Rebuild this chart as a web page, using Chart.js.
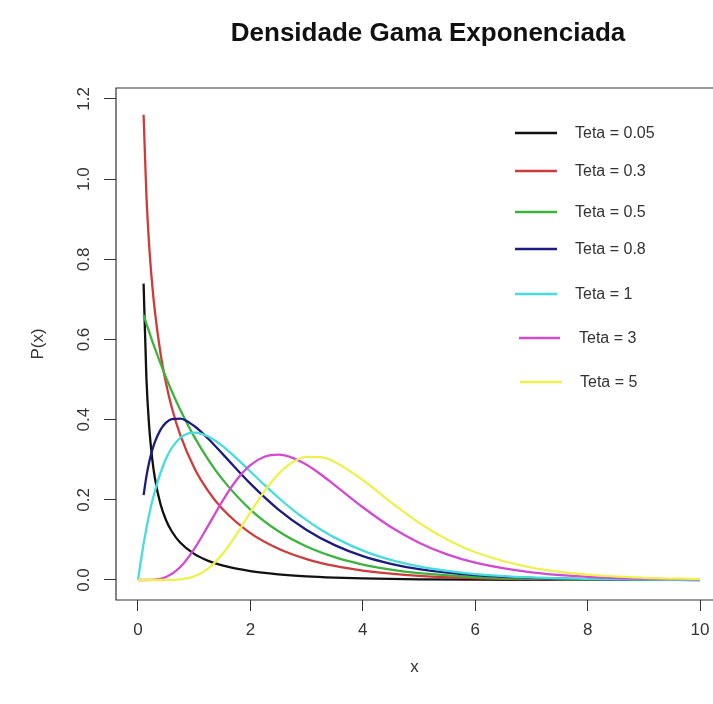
<!DOCTYPE html>
<html>
<head>
<meta charset="utf-8">
<title>Densidade Gama Exponenciada</title>
<script src="https://cdn.jsdelivr.net/npm/chart.js@4"></script>
<style>
  body { margin: 0; background: #fff; }
  canvas { display: block; }
</style>
</head>
<body>
<canvas id="densityChart" width="713" height="704"></canvas>
<script>
        // grid used by the curves with theta < 1 (they blow up at x = 0)
        const xLow = [0.1, 0.15, 0.2, 0.25, 0.3, 0.4, 0.5, 0.6, 0.75, 1, 1.25, 1.5, 2, 2.5, 3, 3.5, 4, 4.5, 5, 6, 7, 8, 9, 10];
        // grid used by the curves with theta >= 1
        const xHigh = [0, 0.1, 0.25, 0.5, 0.75, 1, 1.25, 1.5, 1.75, 2, 2.25, 2.5, 2.75, 3, 3.25, 3.5, 4, 4.5, 5, 5.5, 6, 7, 8, 9, 10];

        const teta005 = [0.7393, 0.5038, 0.3817, 0.3064, 0.2551, 0.1894, 0.1491, 0.1216, 0.0936, 0.0651, 0.0478, 0.0363, 0.0222, 0.0142, 0.0092, 0.0061, 0.0040, 0.0027, 0.0018, 0.0008, 0.0003, 0.0001, 0.0001, 0.0000];
        const teta03 = [1.1605, 0.9602, 0.8331, 0.7418, 0.6711, 0.5662, 0.4901, 0.4310, 0.3624, 0.2802, 0.2217, 0.1777, 0.1169, 0.0780, 0.0523, 0.0351, 0.0235, 0.0157, 0.0104, 0.0045, 0.0019, 0.0008, 0.0003, 0.0001];
        const teta05 = [0.6614, 0.6396, 0.6185, 0.5980, 0.5782, 0.5404, 0.5049, 0.4715, 0.4255, 0.3578, 0.3004, 0.2517, 0.1756, 0.1215, 0.0835, 0.0569, 0.0384, 0.0258, 0.0172, 0.0075, 0.0032, 0.0013, 0.0006, 0.0002];
        const teta08 = [0.2117, 0.2585, 0.2941, 0.3220, 0.3439, 0.3746, 0.3925, 0.4013, 0.4024, 0.3841, 0.3524, 0.3152, 0.2403, 0.1757, 0.1249, 0.0871, 0.0597, 0.0405, 0.0272, 0.0119, 0.0051, 0.0022, 0.0009, 0.0004];
        const teta1 = [0, 0.0905, 0.1947, 0.3033, 0.3543, 0.3679, 0.3581, 0.3347, 0.3041, 0.2707, 0.2371, 0.2052, 0.1758, 0.1494, 0.1260, 0.1057, 0.0733, 0.0500, 0.0337, 0.0225, 0.0149, 0.0064, 0.0027, 0.0011, 0.0005];
        const teta3 = [0, 0.0000, 0.0004, 0.0074, 0.0319, 0.0771, 0.1357, 0.1963, 0.2487, 0.2865, 0.3075, 0.3127, 0.3048, 0.2874, 0.2637, 0.2368, 0.1814, 0.1322, 0.0931, 0.0639, 0.0431, 0.0189, 0.0080, 0.0033, 0.0014];
        const teta5 = [0, 0.0000, 0.0000, 0.0001, 0.0016, 0.0090, 0.0286, 0.0640, 0.1130, 0.1685, 0.2215, 0.2647, 0.2937, 0.3072, 0.3066, 0.2946, 0.2495, 0.1942, 0.1428, 0.1009, 0.0693, 0.0310, 0.0133, 0.0055, 0.0023];

        const seriesLabels = ["Teta = 0.05", "Teta = 0.3", "Teta = 0.5", "Teta = 0.8", "Teta = 1", "Teta = 3", "Teta = 5"];
        const xTicks = [0, 2, 4, 6, 8, 10];
        const yTicks = [0, 0.2, 0.4, 0.6, 0.8, 1.0, 1.2];
        const mainTitle = "Densidade Gama Exponenciada";

        const series = [
            { xs: xLow, ys: teta005, color: "#111111" },
            { xs: xLow, ys: teta03, color: "#cf3b3b" },
            { xs: xLow, ys: teta05, color: "#3cb43c" },
            { xs: xLow, ys: teta08, color: "#1c1c80" },
            { xs: xHigh, ys: teta1, color: "#48dcdc" },
            { xs: xHigh, ys: teta3, color: "#d24ad2" },
            { xs: xHigh, ys: teta5, color: "#eef050" }
        ];

        // legend rows (no box), hand placed in the upper right like the R legend
        const legendRows = [
            { y: 133, x0: 515, x1: 557, tx: 575 },
            { y: 171, x0: 515, x1: 557, tx: 575 },
            { y: 212, x0: 515, x1: 557, tx: 575 },
            { y: 249, x0: 515, x1: 557, tx: 575 },
            { y: 294, x0: 515, x1: 557, tx: 575 },
            { y: 338, x0: 519, x1: 560, tx: 579 },
            { y: 382, x0: 520, x1: 562, tx: 580 }
        ];

        const datasets = series.map((s, i) => ({
            label: seriesLabels[i],
            data: s.xs.map((x, j) => ({ x: x, y: s.ys[j] })),
            borderColor: s.color,
            borderWidth: 2.3,
            pointRadius: 0,
            fill: false,
            cubicInterpolationMode: "monotone",
            order: series.length - i   // later curves are painted on top
        }));

        // R style frame (the right edge falls just outside the canvas), title and legend
        const frameAndLegend = {
            id: "frameAndLegend",
            afterDatasetsDraw(chart) {
                const { ctx, chartArea } = chart;
                const { left, top, right, bottom } = chartArea;
                ctx.save();
                ctx.strokeStyle = "#333";
                ctx.lineWidth = 1.2;
                ctx.beginPath();
                ctx.moveTo(right, top);
                ctx.lineTo(left, top);
                ctx.lineTo(left, bottom);
                ctx.lineTo(right, bottom);
                ctx.stroke();

                ctx.fillStyle = "#111";
                ctx.textAlign = "center";
                ctx.textBaseline = "middle";
                ctx.font = "bold 26px 'Liberation Sans', Arial, sans-serif";
                ctx.fillText(mainTitle, 428, 34);

                ctx.font = "16px 'Liberation Sans', Arial, sans-serif";
                ctx.textAlign = "left";
                legendRows.forEach((row, i) => {
                    ctx.strokeStyle = series[i].color;
                    ctx.lineWidth = 2.5;
                    ctx.beginPath();
                    ctx.moveTo(row.x0, row.y);
                    ctx.lineTo(row.x1, row.y);
                    ctx.stroke();
                    ctx.fillStyle = "#333";
                    ctx.fillText(seriesLabels[i], row.tx, row.y + 1);
                });
                ctx.restore();
            }
        };

        const axisFont = { family: "'Liberation Sans', Arial, sans-serif", size: 17 };

        new Chart(document.getElementById("densityChart"), {
            type: "line",
            data: { datasets: datasets },
            plugins: [frameAndLegend],
            options: {
                responsive: false,
                animation: false,
                layout: { padding: { top: 88, left: 0, right: 0, bottom: 0 } },
                plugins: {
                    legend: { display: false },
                    tooltip: { enabled: false },
                    title: { display: false }
                },
                scales: {
                    x: {
                        type: "linear",
                        min: -0.391,
                        max: 10.231,
                        afterBuildTicks: scale => { scale.ticks = xTicks.map(v => ({ value: v })); },
                        afterFit: scale => {
                            scale.height = 104;
                            scale.paddingLeft = 0;
                            scale.paddingRight = 0;
                        },
                        grid: { drawOnChartArea: false, drawTicks: true, tickLength: 11, tickColor: "#333" },
                        border: { display: false },
                        ticks: { color: "#333", font: axisFont, padding: 9, maxRotation: 0 },
                        title: { display: true, text: "x", color: "#333", font: axisFont, padding: { top: 0, bottom: 26 } }
                    },
                    y: {
                        type: "linear",
                        min: -0.0499,
                        max: 1.2274,
                        afterBuildTicks: scale => { scale.ticks = yTicks.map(v => ({ value: v })); },
                        afterFit: scale => { scale.width = 116; },
                        grid: { drawOnChartArea: false, drawTicks: true, tickLength: 12, tickColor: "#333" },
                        border: { display: false },
                        ticks: {
                            color: "#333",
                            font: axisFont,
                            minRotation: 90,
                            maxRotation: 90,
                            crossAlign: "center",
                            padding: 8,
                            callback: v => v.toFixed(1)
                        },
                        title: { display: true, text: "P(x)", color: "#333", font: axisFont, padding: { top: 28, bottom: 0 } }
                    }
                }
            }
        });
</script>
</body>
</html>
